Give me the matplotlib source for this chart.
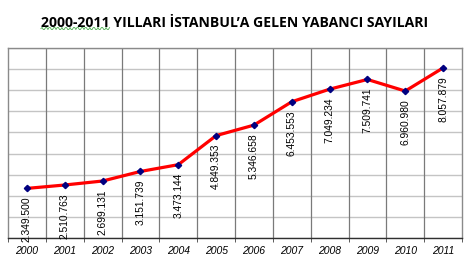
import matplotlib
matplotlib.use("Agg")
import matplotlib.pyplot as plt
import numpy as np

# ---------------------------------------------------------
# DADOS
# ---------------------------------------------------------

yillar = ["2000", "2001", "2002", "2003", "2004", "2005",
          "2006", "2007", "2008", "2009", "2010", "2011"]
yabanci = [2349500, 2510763, 2699131, 3151739, 3473144, 4849353,
           5346658, 6453553, 7049234, 7509741, 6960980, 8057879]

baslik = "2000-2011 YILLARI İSTANBUL\u2019A GELEN YABANCI SAYILARI"

def nokta_format(v):
    return f"{v:,}".replace(",", ".")

# ---------------------------------------------------------
# GRAFIK
# ---------------------------------------------------------

fig = plt.figure(figsize=(4.69, 2.62), dpi=100)
ax = fig.add_axes([8 / 469, 24 / 262, 454 / 469, 190 / 262])

x = np.arange(len(yillar))
ax.set_xlim(-0.5, len(yillar) - 0.5)
ax.set_ylim(0, 9000000)

# grade: horizontais claras, verticais mais escuras
ax.set_yticks(np.arange(0, 9000001, 1000000))
ax.yaxis.grid(True, color="#c4c4c4", linewidth=1.0)
for b in np.arange(0.5, len(yillar) - 0.5, 1):
    ax.axvline(b, color="#7a7a7a", linewidth=0.9, zorder=1)
ax.set_axisbelow(True)
ax.tick_params(axis="y", left=False, labelleft=False)

ax.set_xticks(x)
ax.set_xticklabels(yillar, fontsize=7.5, style="italic", family="Liberation Sans")
ax.set_xticks(np.arange(-0.5, len(yillar), 1), minor=True)
ax.tick_params(axis="x", which="major", length=0, pad=6)
ax.tick_params(axis="x", which="minor", length=3, color="#404040", direction="out")

for lado in ["top", "right", "left"]:
    ax.spines[lado].set_color("#8a8a8a")
    ax.spines[lado].set_linewidth(1.0)
ax.spines["bottom"].set_color("#303030")
ax.spines["bottom"].set_linewidth(1.0)

ax.plot(x, yabanci, color="#ff0000", linewidth=2.3, zorder=3)
ax.plot(x, yabanci, linestyle="none", marker="D", markersize=3.2,
        color="#000080", zorder=4)

for xi, v in zip(x, yabanci):
    ax.annotate(nokta_format(v), (xi, v), xytext=(0, -6),
                textcoords="offset points", rotation=90,
                ha="center", va="top", fontsize=7.4,
                family="Liberation Sans", zorder=5)

t = fig.text(234.5 / 469, 1 - 23 / 262, baslik, ha="center", va="center",
             fontsize=10.1, fontweight="bold", family="Open Sans")

# sublinhado ondulado verde (corretor ortografico) sob "2000-2011"
fig.canvas.draw()
r = fig.canvas.get_renderer()
bb = t.get_window_extent(r)
parte = fig.text(0, 0, "2000-2011", fontsize=10.1, fontweight="bold", family="Open Sans")
larg = parte.get_window_extent(r).width
parte.remove()
xs = np.linspace(bb.x0, bb.x0 + larg, 60)
ys = bb.y0 + 1.5 + 1.0 * np.sign(np.sin((xs - bb.x0) * np.pi / 2.0))
fig.add_artist(plt.Line2D(xs / fig.bbox.width, ys / fig.bbox.height,
                          color="#4caf50", linewidth=0.6))

fig.savefig("out.png", dpi=100, facecolor="white")
